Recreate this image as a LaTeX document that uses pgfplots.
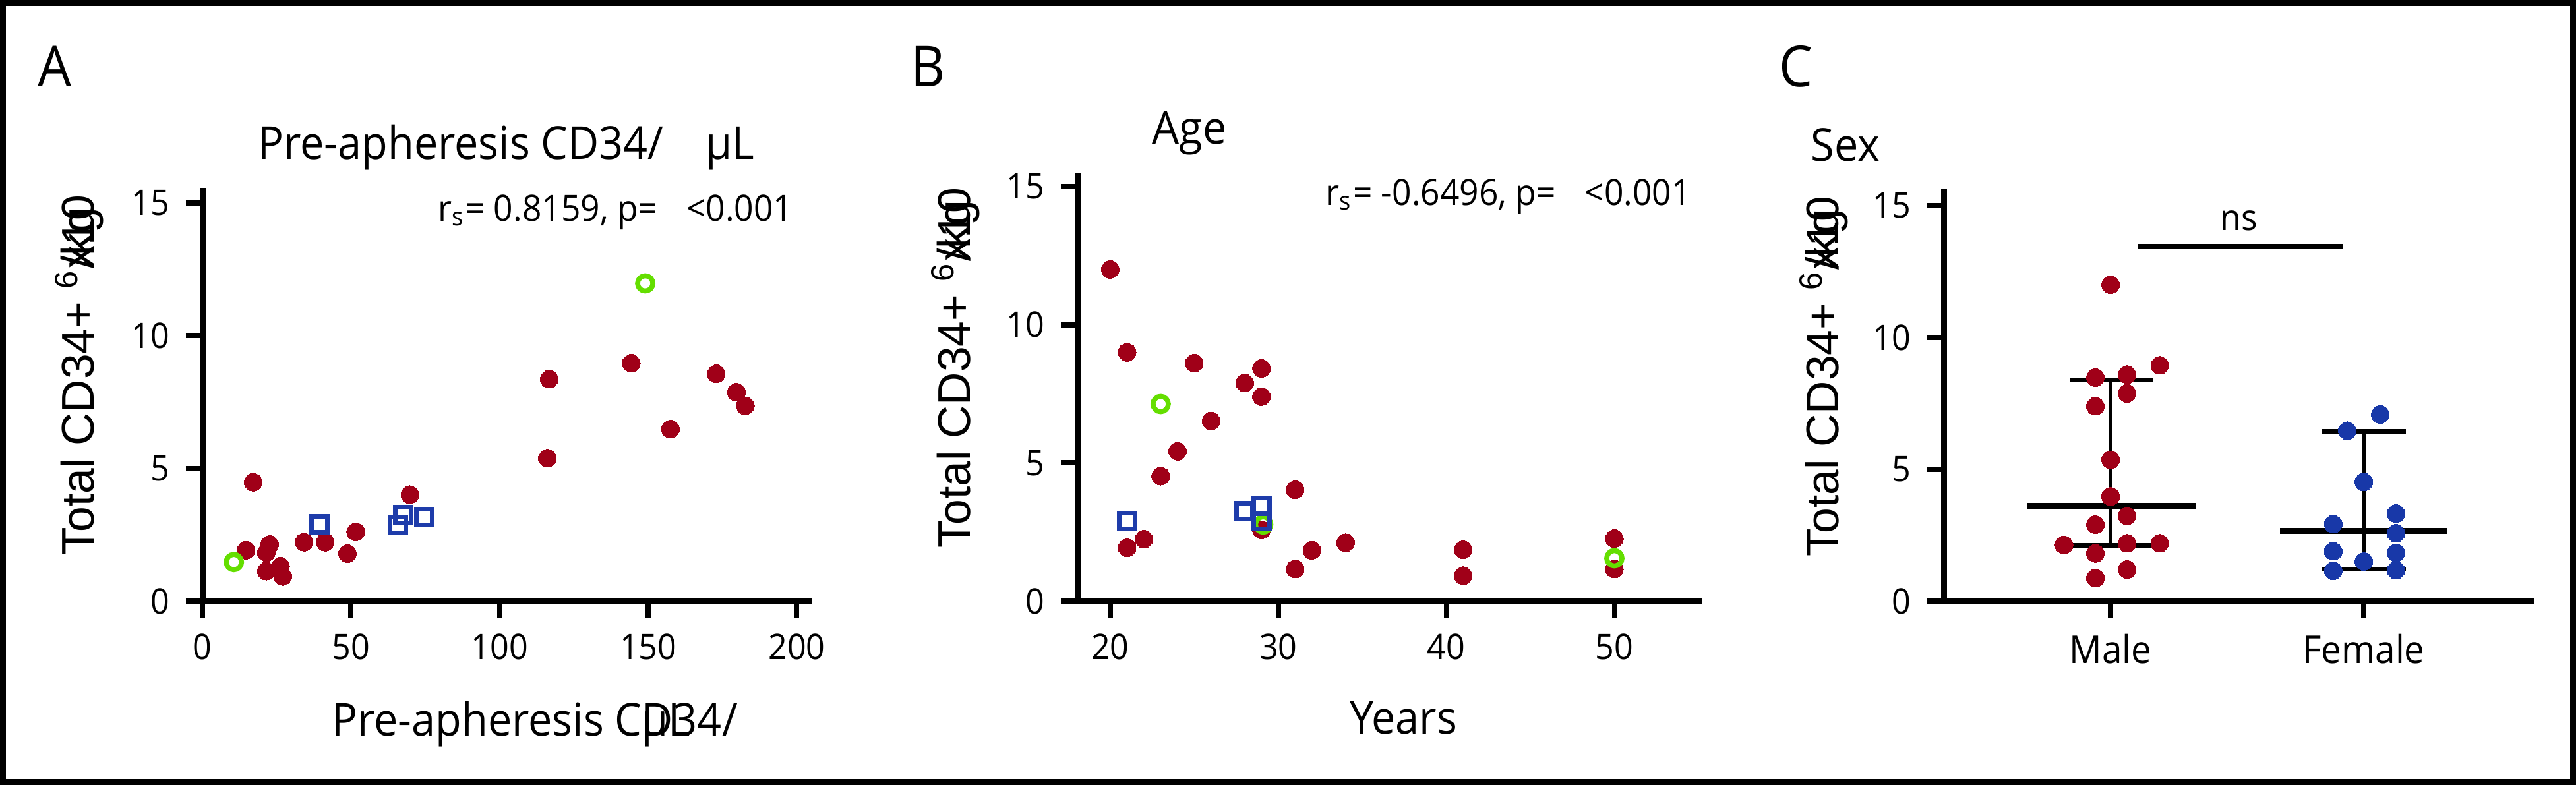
\documentclass[border=0pt]{standalone}
\usepackage{fontspec}
\setmainfont{Open Sans}[FakeStretch=0.94]
\newfontfamily\arialfont{Liberation Sans}
\usepackage{pgfplots}
\pgfplotsset{compat=1.18}

\definecolor{dotred}{RGB}{160,0,24}
\definecolor{sqblue}{RGB}{30,60,170}
\definecolor{dotblue}{RGB}{24,56,168}
\definecolor{ringgreen}{RGB}{100,222,0}

\pgfplotsset{
  gp/.style={
    scale only axis,
    axis x line=bottom, axis y line=left,
    axis line style={line width=0.45mm, -},
    tick align=outside,
    major tick length=1.25mm,
    every tick/.style={line width=0.4mm, black},
    clip=false,
    ymin=0, ytick={0,5,10,15},
    minor tick num=0,
    ticklabel style={font=\fontsize{7.6}{9}\selectfont},
    /pgf/number format/assume math mode=true,
    anchor=south west,
  },
  reddot/.style={only marks, mark=*, mark size=0.68mm, mark options={fill=dotred, draw=dotred, line width=0pt}},
  bluedot/.style={only marks, mark=*, mark size=0.68mm, mark options={fill=dotblue, draw=dotblue, line width=0pt}},
  bluesq/.style={only marks, mark=square, mark size=0.6mm, mark options={draw=sqblue, line width=0.36mm}},
  greenring/.style={only marks, mark=o, mark size=0.58mm, mark options={draw=ringgreen, line width=0.38mm}},
  bar/.style={black, line width=0.33mm, no marks},
}

\begin{document}
\begin{tikzpicture}
\path[use as bounding box] (0,0) rectangle (195.35mm,-59.55mm);

% A: pre-apheresis CD34
\begin{axis}[gp, at={(15.35mm,-45.6mm)}, width=46.2mm, height=31.35mm,
  xmin=0, xmax=205, ymax=15.57, xtick={0,50,100,150,200}]
\addplot[reddot] coordinates {
  (17.1,4.48) (14.7,1.92) (21.5,1.83) (22.6,2.13) (21.5,1.13) (26.3,1.31)
  (27.0,0.93) (34.2,2.22) (41.3,2.22) (48.8,1.79) (51.6,2.61) (69.8,4.01)
  (116.1,5.38) (116.7,8.36) (144.3,8.96) (157.5,6.48) (172.9,8.56)
  (179.7,7.87) (182.7,7.36)};
\addplot[bluesq] coordinates {(39.3,2.88) (65.8,2.87) (67.6,3.25) (74.6,3.17)};
\addplot[greenring] coordinates {(10.6,1.47) (149.0,11.97)};
\end{axis}

% B: age
\begin{axis}[gp, at={(81.7mm,-45.6mm)}, width=47.35mm, height=32.5mm,
  xmin=18.04, xmax=55.2, ymax=15.5, xtick={20,30,40,50}]
\addplot[reddot] coordinates {
  (20,12.0) (21,9.0) (25,8.61) (29,8.42) (28,7.89) (29,7.40) (26,6.52)
  (24,5.42) (23,4.52) (31,4.03) (29,2.58) (22,2.24) (21,1.93) (34,2.11)
  (32,1.84) (31,1.16) (41,1.86) (41,0.92) (50,2.26) (50,1.16)};
\addplot[greenring] coordinates {(23,7.13) (29.1,2.77) (50,1.55)};
\addplot[bluesq] coordinates {(21,2.89) (28,3.25) (29,3.44) (29,2.89)};
\end{axis}

% C: sex
\begin{axis}[gp, at={(147.4mm,-45.6mm)}, width=44.8mm, height=31.25mm,
  xmin=0.341, xmax=2.674, ymax=15.625, xtick={1,2}, xticklabels={Male,Female},
  xticklabel style={font=\fontsize{8.3}{9}\selectfont}]
\addplot[reddot] coordinates {
  (1.0,12.0) (1.194,8.94) (0.94,8.48) (1.065,8.59) (1.065,7.88) (0.94,7.39)
  (1.0,5.36) (1.0,3.97) (1.065,3.23) (0.94,2.90) (0.816,2.13) (1.065,2.19)
  (1.194,2.19) (0.94,1.81) (1.065,1.20) (0.94,0.875)};
\addplot[bluedot] coordinates {
  (2.065,7.08) (1.935,6.46) (2.0,4.52) (2.127,3.32) (1.879,2.92) (2.127,2.57)
  (1.879,1.89) (2.127,1.83) (2.0,1.50) (1.879,1.15) (2.127,1.17)};
% median and interquartile range
\addplot[bar] coordinates {(1,2.11) (1,8.39)};
\addplot[bar] coordinates {(0.838,8.39) (1.168,8.39)};
\addplot[bar] coordinates {(0.838,2.11) (1.168,2.11)};
\addplot[bar, line width=0.42mm] coordinates {(0.67,3.61) (1.335,3.61)};
\addplot[bar] coordinates {(2,1.21) (2,6.44)};
\addplot[bar] coordinates {(1.836,6.44) (2.166,6.44)};
\addplot[bar] coordinates {(1.836,1.21) (2.166,1.21)};
\addplot[bar, line width=0.42mm] coordinates {(1.67,2.66) (2.33,2.66)};
\addplot[bar, line width=0.38mm] coordinates {(1.108,13.45) (1.918,13.45)};
\end{axis}

\begin{scope}[x=0.05mm, y=-0.05mm]
\def\ylab{Total CD34+ \textsuperscript{6}\rlap{x10}/kg}
\tikzset{lbl/.style={inner sep=0pt, font=\fontsize{9.8}{11}\selectfont},
         sml/.style={inner sep=0pt, font=\fontsize{7.8}{9}\selectfont},
         pnl/.style={inner sep=0pt, font=\fontsize{12.2}{14}\selectfont}}
\node[pnl, anchor=base] at (83,132) {A};
\node[pnl, anchor=base] at (1408,132) {B};
\node[pnl, anchor=base] at (2724,132) {C};

\node[lbl, anchor=base west] at (390,242) {Pre-apheresis CD34/\hspace{3.2mm}µL};
\node[lbl, anchor=base] at (1804,219) {Age};
\node[lbl, anchor=base] at (2799,245) {Sex};

\node[sml, anchor=base west] at (663,336) {r\textsubscript{s}= 0.8159, p=\hspace{2.2mm}<0.001};
\node[sml, anchor=base west] at (2009,312) {r\textsubscript{s}= -0.6496, p=\hspace{2.2mm}<0.001};
\node[sml, anchor=base] at (3396,350) {ns};

\node[lbl, anchor=base west] at (502,1117) {Pre-apheresis C\rlap{µL}D34/};
\node[lbl, anchor=base] at (2129,1114) {Years};

\node[inner sep=0pt, font=\arialfont\fontsize{9.9}{11}\selectfont, rotate=90, anchor=base west] at (143,844) {\ylab};
\node[inner sep=0pt, font=\arialfont\fontsize{9.9}{11}\selectfont, rotate=90, anchor=base west] at (1472,833) {\ylab};
\node[inner sep=0pt, font=\arialfont\fontsize{9.9}{11}\selectfont, rotate=90, anchor=base west] at (2789,846) {\ylab};

\draw[line width=0.45mm] (4.5,4.5) rectangle (3902.5,1186.5);
\end{scope}
\end{tikzpicture}
\end{document}
